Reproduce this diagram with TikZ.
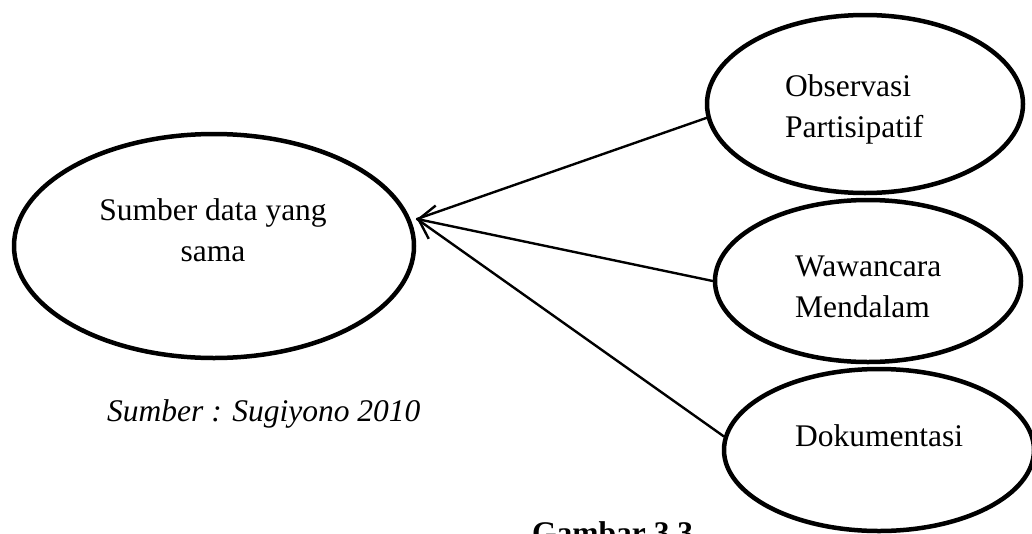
\documentclass[tikz,border=0pt]{standalone}
\usepackage{fontspec}
\setmainfont{Liberation Serif}
\usetikzlibrary{shapes.geometric,arrows.meta}
\begin{document}
\begin{tikzpicture}[x=1pt,y=-1pt,>={Straight Barb[length=14pt,width=34pt]},
  font=\fontsize{31.5}{41}\selectfont, line join=round, line cap=round,
  oval/.style={draw, ellipse, line width=4.5pt, inner sep=0pt},
  lbl/.style={anchor=base west, inner sep=0pt, align=left},
  link/.style={line width=2.4pt}]
\useasboundingbox (0,0) rectangle (1032,533);
\path
(214,246) coordinate (S)
(865,104) coordinate (O)
(868,281) coordinate (W)
(879,450) coordinate (D)
(417,219) coordinate (tip)
;
% ellipses
\node[oval, minimum width=400, minimum height=224] (src) at (S) {};
\node[oval, minimum width=316, minimum height=178] (obs) at (O) {};
\node[oval, minimum width=306, minimum height=162] (wwc) at (W) {};
\node[oval, minimum width=310, minimum height=162] (dok) at (D) {};
% texts (base = last line)
\node[anchor=base, inner sep=0pt, align=center] (srcT) at (213,261) {Sumber data yang\\sama};
\node[lbl] (obsT) at (785,137) {Observasi\\Partisipatif};
\node[lbl] (wwcT) at (795,317) {Wawancara\\Mendalam};
\node[lbl] (dokT) at (795,446) {Dokumentasi};
\node[lbl] (ref) at (107,421) {\itshape Sumber : Sugiyono 2010};
\node[lbl] (fig) at (532,543) {\bfseries Gambar 3.3};
% connectors
\draw[link] (obs.185) -- (tip);
\draw[link,->] (wwc.180) -- (tip);
\draw[link] (dok.175) -- (tip);
\end{tikzpicture}
\end{document}
